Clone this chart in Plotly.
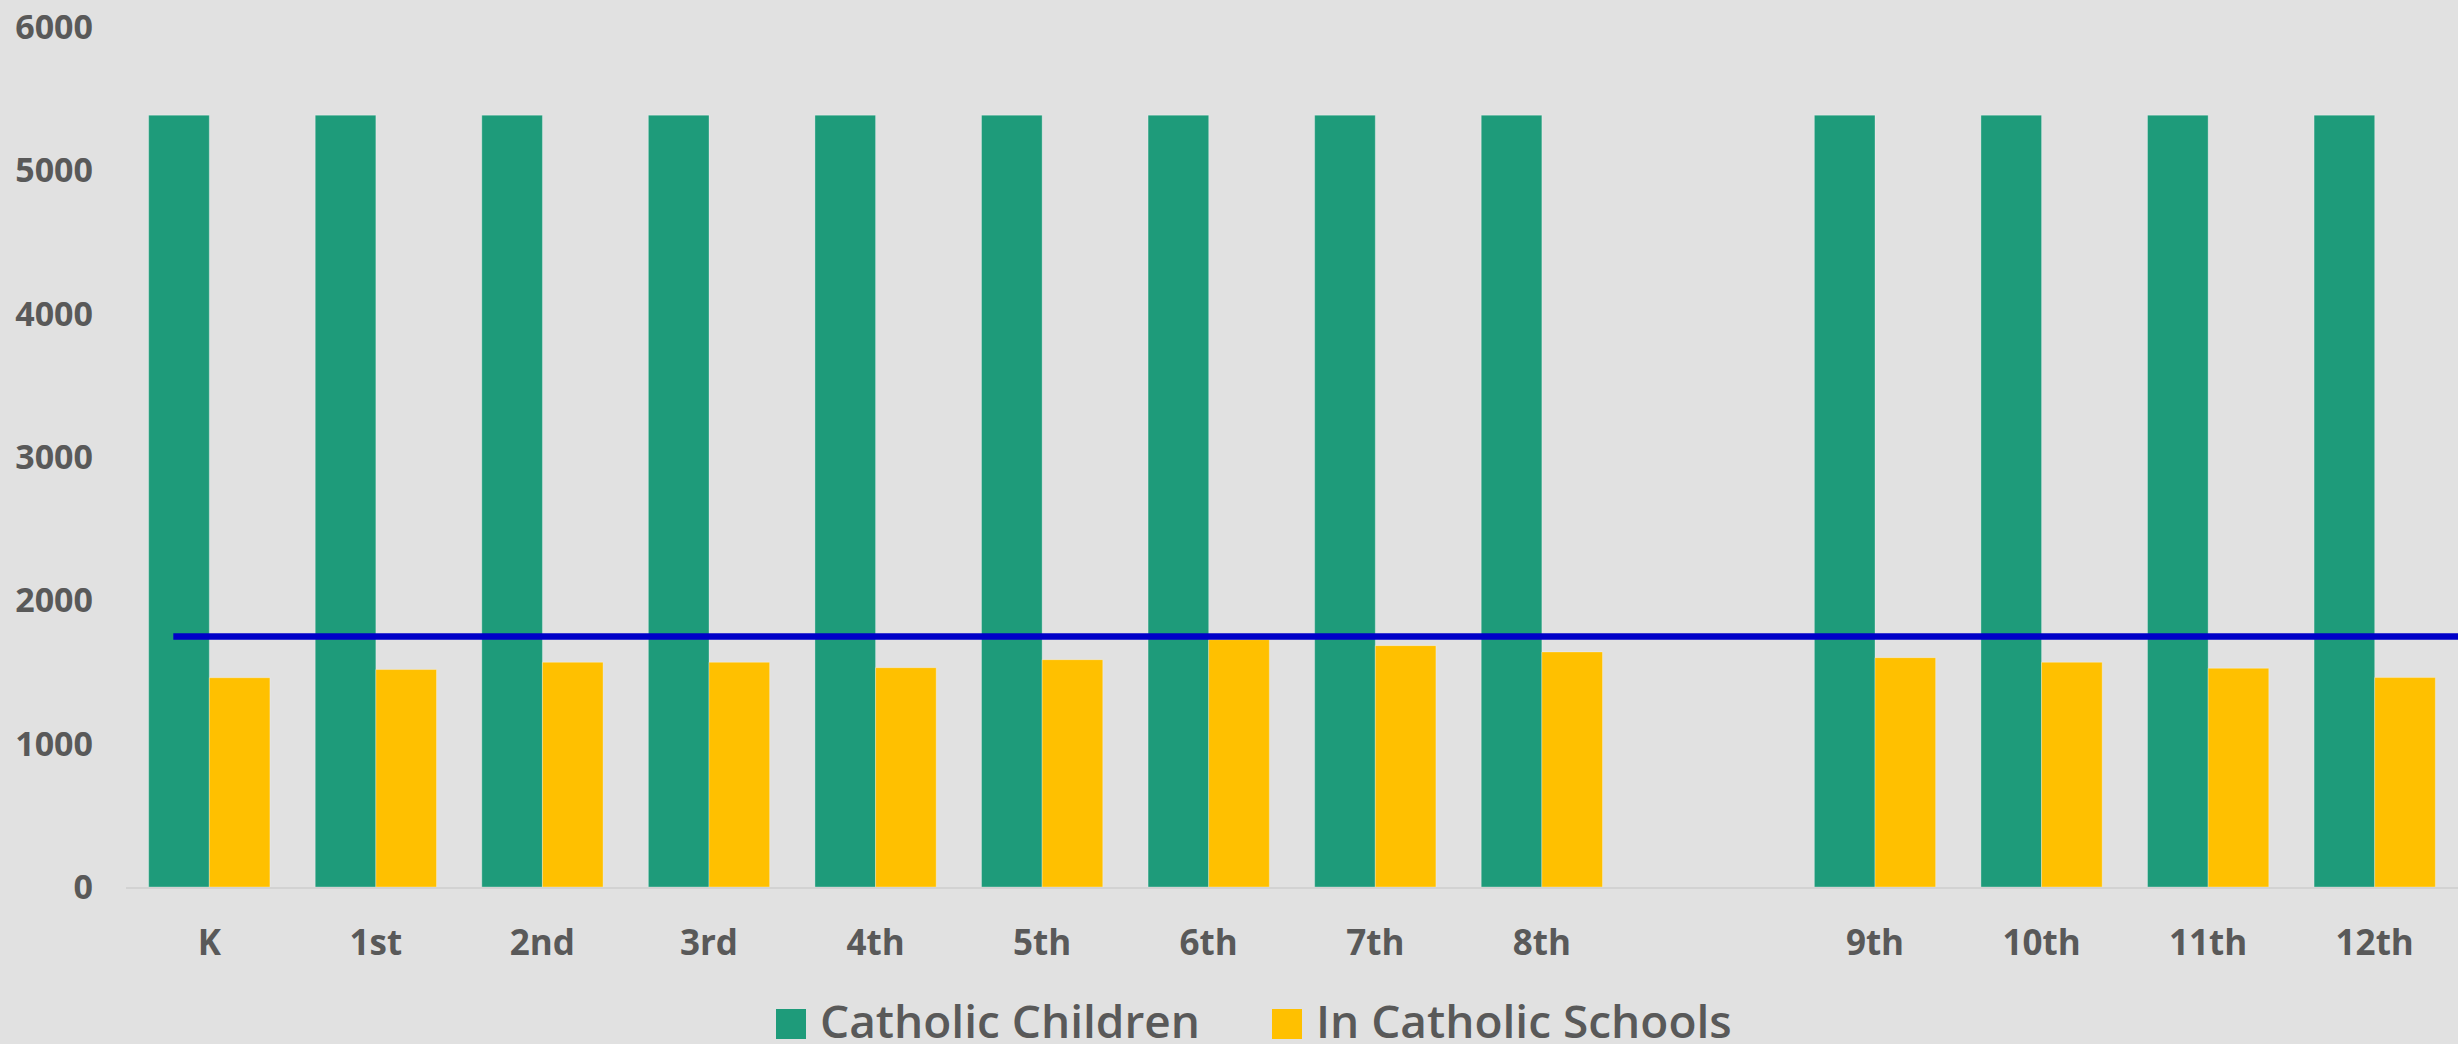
import plotly.graph_objects as go

# ---- data ----
grades = ["K", "1st", "2nd", "3rd", "4th", "5th", "6th", "7th", "8th", " ",
          "9th", "10th", "11th", "12th"]
catholic_children = [5385, 5385, 5385, 5385, 5385, 5385, 5385, 5385, 5385, None,
                     5385, 5385, 5385, 5385]
in_catholic_schools = [1460, 1517, 1568, 1568, 1530, 1586, 1726, 1684, 1640, None,
                       1600, 1568, 1526, 1461]
reference_level = 1747
y_ticks = [0, 1000, 2000, 3000, 4000, 5000, 6000]
series_names = ["Catholic Children", "In Catholic Schools"]

# ---- style ----
GREEN = "#1E9B7A"
YELLOW = "#FFC000"
BLUE = "#0000C8"
BG = "#E1E1E1"
TXT = "#595959"
FONT = "Open Sans"

W, H = 2458, 1044
ML, MR, MT, MB = 126, 0, 27, 157
PW, PH = W - ML - MR, H - MT - MB


def px_x(px):
    return (px - ML) / PW


def px_y(py):
    return (H - MB - py) / PH


fig = go.Figure()
fig.add_trace(go.Bar(x=grades, y=catholic_children, name=series_names[0],
                     marker=dict(color=GREEN, line=dict(color="rgba(255,255,255,0.3)", width=1)),
                     showlegend=False))
fig.add_trace(go.Bar(x=grades, y=in_catholic_schools, name=series_names[1],
                     marker=dict(color=YELLOW, line=dict(color="rgba(255,255,255,0.3)", width=1)),
                     showlegend=False))

fig.add_shape(type="line", xref="x", yref="y", x0=-0.216, x1=13.5,
              y0=reference_level, y1=reference_level,
              line=dict(color=BLUE, width=6.5), layer="above")

# legend (drawn manually to match large swatches)
legend_items = [(series_names[0], GREEN, 776), (series_names[1], YELLOW, 1272)]
for name, col, x0 in legend_items:
    fig.add_shape(type="rect", xref="paper", yref="paper",
                  x0=px_x(x0), x1=px_x(x0 + 30), y0=px_y(1039), y1=px_y(1009),
                  fillcolor=col, line=dict(width=0))
    fig.add_annotation(xref="paper", yref="paper", x=px_x(x0 + 42), y=px_y(1020),
                       xanchor="left", yanchor="middle", showarrow=False,
                       text=name, font=dict(family=FONT, size=46, color=TXT, weight=600))

fig.update_layout(
    width=W, height=H,
    margin=dict(l=ML, r=MR, t=MT, b=MB),
    paper_bgcolor=BG, plot_bgcolor=BG,
    barmode="group", bargap=0.272, bargroupgap=0,
    font=dict(family=FONT, color=TXT),
)
fig.update_xaxes(type="category", range=[-0.5, 13.5], showgrid=False,
                 showline=True, linecolor="#D2D2D2", linewidth=2,
                 ticks="", ticklabelstandoff=24,
                 tickfont=dict(family=FONT, size=35, color=TXT, weight="bold"))
fig.update_yaxes(range=[0, 6000], tickvals=y_ticks, showgrid=False, zeroline=False,
                 showline=False, ticks="", ticklabelstandoff=32,
                 tickfont=dict(family=FONT, size=34, color=TXT, weight="bold"))

fig.write_html("out.html", config={"displayModeBar": False},
               post_script="document.body.style.margin='0';document.body.style.overflow='hidden';")
